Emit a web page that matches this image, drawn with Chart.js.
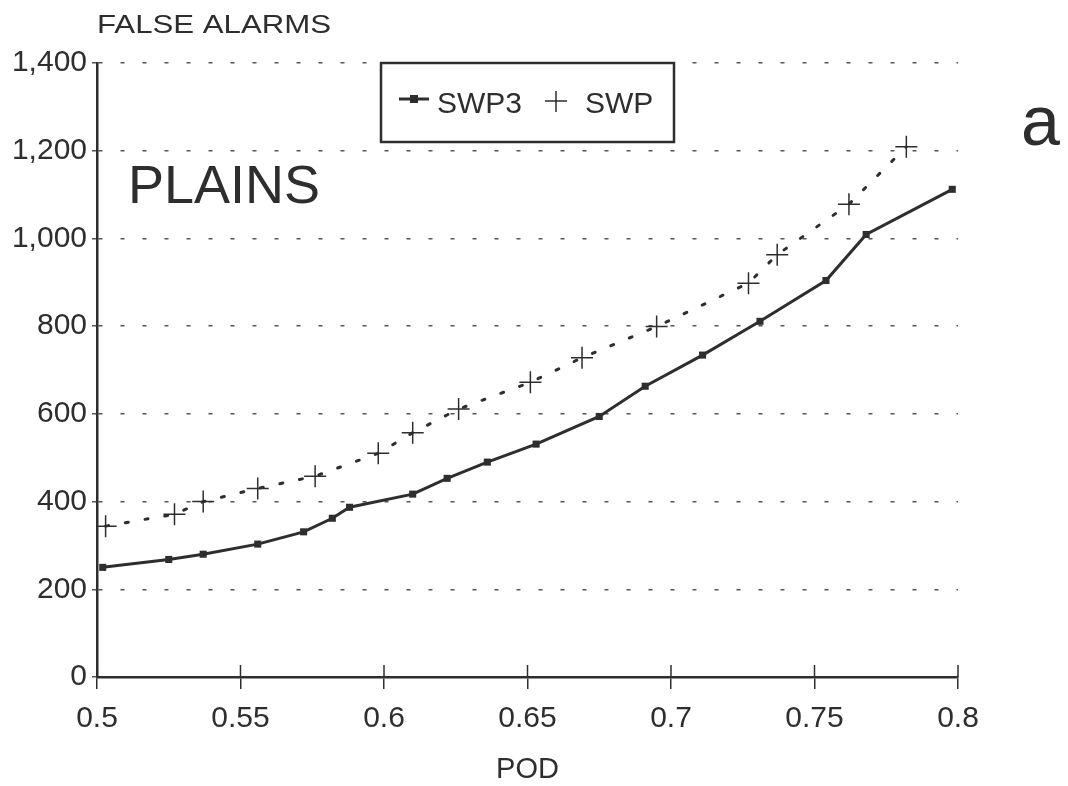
<!DOCTYPE html>
<html>
<head>
<meta charset="utf-8">
<title>False alarms vs POD - Plains</title>
<script src="https://cdn.jsdelivr.net/npm/chart.js@4.4.1/dist/chart.umd.min.js"></script>
<style>
  html, body { margin: 0; padding: 0; background: #fff; }
  #wrap { width: 1068px; height: 786px; position: relative; }
</style>
</head>
<body>
<div id="wrap"><canvas id="plainsChart"></canvas></div>
<script>
// POD / false alarm pairs for the two schemes
var swp3Pod   = [0.502, 0.525, 0.537, 0.556, 0.572, 0.582, 0.588, 0.610, 0.622, 0.636, 0.653, 0.675, 0.691, 0.711, 0.731, 0.754, 0.768, 0.798];
var swp3False = [250, 268, 280, 303, 331, 362, 387, 417, 453, 490, 531, 594, 663, 734, 811, 904, 1009, 1112];
var swpPod    = [0.503, 0.527, 0.537, 0.556, 0.576, 0.598, 0.610, 0.626, 0.651, 0.669, 0.695, 0.727, 0.737, 0.762, 0.782];
var swpFalse  = [344, 371, 400, 430, 458, 510, 557, 611, 672, 728, 799, 898, 963, 1078, 1209];

var podTicks   = [0.5, 0.55, 0.6, 0.65, 0.7, 0.75, 0.8];
var alarmTicks = [0, 200, 400, 600, 800, 1000, 1200, 1400];

var ink = '#2e2e2e';
var font = '"Liberation Sans", Arial, Helvetica, sans-serif';

function pairs(xs, ys) {
  return xs.map(function (x, i) { return { x: x, y: ys[i] }; });
}

// extra text, tick marks above the x axis and the boxed legend
var decor = {
  id: 'decor',
  afterDraw: function (chart) {
    var ctx = chart.ctx;
    var xs = chart.scales.x;
    var area = chart.chartArea;

    ctx.save();
    ctx.strokeStyle = ink;
    ctx.lineWidth = 1.5;
    xs.ticks.forEach(function (t) {
      var px = xs.getPixelForValue(t.value);
      ctx.beginPath();
      ctx.moveTo(px, area.bottom);
      ctx.lineTo(px, area.bottom - 12);
      ctx.stroke();
    });

    ctx.fillStyle = ink;
    ctx.textBaseline = 'alphabetic';
    ctx.textAlign = 'left';

    // axis caption, set a little wide
    ctx.save();
    ctx.translate(97, 33);
    ctx.scale(1.2, 1);
    ctx.font = '26px ' + font;
    ctx.fillText('FALSE ALARMS', 0, 0);
    ctx.restore();

    ctx.font = '54px ' + font;
    ctx.fillText('PLAINS', 128, 203);

    ctx.font = '70px ' + font;
    ctx.fillText('a', 1021, 145);

    // legend box
    var ds = chart.data.datasets;
    ctx.lineWidth = 2.5;
    ctx.strokeRect(381, 63, 293, 79);
    ctx.font = '30px ' + font;

    ctx.lineWidth = 3;
    ctx.beginPath();
    ctx.moveTo(399, 99);
    ctx.lineTo(429, 99);
    ctx.stroke();
    ctx.fillRect(410, 95, 8, 8);
    ctx.fillText(ds[0].label, 437, 113);

    ctx.lineWidth = 1.5;
    ctx.beginPath();
    ctx.moveTo(545, 101);
    ctx.lineTo(567, 101);
    ctx.moveTo(556, 91);
    ctx.lineTo(556, 112);
    ctx.stroke();
    ctx.fillText(ds[1].label, 585, 113);
    ctx.restore();
  }
};

new Chart(document.getElementById('plainsChart'), {
  type: 'line',
  data: {
    datasets: [{
      label: 'SWP3',
      data: pairs(swp3Pod, swp3False),
      borderColor: ink,
      backgroundColor: ink,
      borderWidth: 3,
      pointStyle: 'rect',
      pointRadius: 5,
      pointBorderWidth: 0,
      tension: 0
    }, {
      label: 'SWP',
      data: pairs(swpPod, swpFalse),
      borderColor: ink,
      backgroundColor: ink,
      borderWidth: 3,
      borderDash: [3, 17],
      borderCapStyle: 'round',
      pointStyle: 'cross',
      pointRadius: 11,
      pointBorderWidth: 1.5,
      tension: 0
    }]
  },
  options: {
    responsive: true,
    maintainAspectRatio: false,
    animation: false,
    layout: { padding: { top: 63, right: 110, left: 0, bottom: 0 } },
    plugins: {
      legend: { display: false },
      tooltip: { enabled: false }
    },
    scales: {
      x: {
        type: 'linear',
        min: 0.5,
        max: 0.8,
        afterBuildTicks: function (s) {
          s.ticks = podTicks.map(function (v) { return { value: v }; });
        },
        afterFit: function (s) { s.height = 109; },
        ticks: {
          color: ink,
          font: { family: font, size: 30 },
          padding: 12,
          maxRotation: 0,
          callback: function (v) { return String(+v.toFixed(2)); }
        },
        grid: {
          drawOnChartArea: false,
          drawTicks: true,
          tickLength: 12,
          color: ink,
          lineWidth: 1.5
        },
        border: { display: true, color: ink, width: 2.5 },
        title: {
          display: true,
          text: 'POD',
          color: ink,
          font: { family: font, size: 29 },
          padding: { top: 0, bottom: -1 }
        }
      },
      y: {
        min: 0,
        max: 1400,
        afterBuildTicks: function (s) {
          s.ticks = alarmTicks.map(function (v) { return { value: v }; });
        },
        afterFit: function (s) { s.width = 97; },
        ticks: {
          color: ink,
          font: { family: font, size: 30 },
          padding: 5,
          callback: function (v) { return v.toLocaleString('en-US'); }
        },
        grid: {
          color: '#555',
          lineWidth: 1.5,
          tickLength: 5
        },
        border: { display: true, color: ink, width: 2.5, dash: [4, 18] }
      }
    }
  },
  plugins: [decor]
});
</script>
</body>
</html>
